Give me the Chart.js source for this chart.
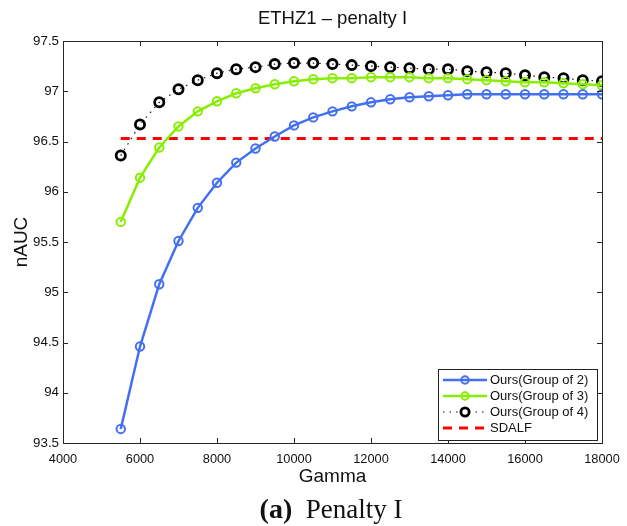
<!DOCTYPE html>
<html>
<head>
<meta charset="utf-8">
<script src="https://cdn.jsdelivr.net/npm/chart.js@4/dist/chart.umd.min.js"></script>
<style>
  html, body { margin: 0; padding: 0; background: #fff; }
  #wrap { width: 627px; height: 526px; position: relative; }
</style>
</head>
<body>
<div id="wrap"><canvas id="c" width="627" height="526"></canvas></div>
<script>
// Gamma values (x axis)
const gamma = [5500, 6000, 6500, 7000, 7500, 8000, 8500, 9000, 9500, 10000,
  10500, 11000, 11500, 12000, 12500, 13000, 13500, 14000, 14500, 15000,
  15500, 16000, 16500, 17000, 17500, 18000];

// nAUC per group size
const group2 = [93.64, 94.46, 95.08, 95.51, 95.84, 96.09, 96.29, 96.43, 96.55, 96.66,
  96.74, 96.80, 96.85, 96.89, 96.92, 96.94, 96.95, 96.96, 96.97, 96.97,
  96.97, 96.97, 96.97, 96.97, 96.97, 96.97];
const group3 = [95.70, 96.14, 96.44, 96.65, 96.80, 96.90, 96.98, 97.03, 97.07, 97.10,
  97.12, 97.13, 97.13, 97.14, 97.14, 97.14, 97.13, 97.13, 97.12, 97.11,
  97.10, 97.09, 97.09, 97.08, 97.07, 97.06];
const group4 = [96.36, 96.67, 96.89, 97.02, 97.11, 97.18, 97.22, 97.24, 97.27, 97.28,
  97.28, 97.27, 97.26, 97.25, 97.24, 97.23, 97.22, 97.22, 97.20, 97.19,
  97.18, 97.16, 97.14, 97.13, 97.11, 97.10];

// SDALF baseline (constant)
const sdalfRange = [5500, 18000];
const sdalfValue = 96.53;

// Axis ticks
const xTicks = [4000, 6000, 8000, 10000, 12000, 14000, 16000, 18000];
const yTicks = [93.5, 94, 94.5, 95, 95.5, 96, 96.5, 97, 97.5];

const seriesLabels = ['Ours(Group of 2)', 'Ours(Group of 3)', 'Ours(Group of 4)', 'SDALF'];

const SANS = '"Liberation Sans", Arial, Helvetica, sans-serif';
const SERIF = '"Liberation Serif", "DejaVu Serif", serif';
const AXIS_COLOR = '#262626';

const toPoints = (xs, ys) => xs.map((x, i) => ({ x, y: ys[i] }));

// Frame, inward tick marks, titles, caption and in-plot legend
const decorations = {
  id: 'decorations',
  afterDatasetsDraw(chart) {
    const { ctx, chartArea: a, scales } = chart;
    const xs = scales.x, ys = scales.y;
    const tl = 5;
    ctx.save();
    ctx.strokeStyle = AXIS_COLOR;
    ctx.lineWidth = 1;
    ctx.beginPath();
    xs.ticks.forEach((t, i) => {
      const px = Math.round(xs.getPixelForTick(i)) + 0.5;
      ctx.moveTo(px, a.bottom); ctx.lineTo(px, a.bottom - tl);
      ctx.moveTo(px, a.top); ctx.lineTo(px, a.top + tl);
    });
    ys.ticks.forEach((t, i) => {
      const py = Math.round(ys.getPixelForTick(i)) + 0.5;
      ctx.moveTo(a.left, py); ctx.lineTo(a.left + tl, py);
      ctx.moveTo(a.right, py); ctx.lineTo(a.right - tl, py);
    });
    ctx.stroke();
    ctx.strokeRect(Math.round(a.left) + 0.5, Math.round(a.top) + 0.5,
      Math.round(a.right - a.left), Math.round(a.bottom - a.top));

    // Legend box in the lower right of the plot
    const lx = 438, ly = 369, lw = 159, lh = 71;
    ctx.fillStyle = '#fff';
    ctx.fillRect(lx, ly, lw, lh);
    ctx.strokeStyle = '#222';
    ctx.strokeRect(lx + 0.5, ly + 0.5, lw, lh);
    ctx.font = '13px ' + SANS;
    ctx.textBaseline = 'middle';
    ctx.textAlign = 'left';
    chart.data.datasets.forEach((ds, i) => {
      const cy = ly + 11 + i * 16;
      const x0 = lx + 5, x1 = lx + 49, xm = (x0 + x1) / 2;
      ctx.save();
      ctx.strokeStyle = ds.borderColor;
      ctx.lineWidth = ds.borderWidth;
      ctx.setLineDash(ds.borderDash || []);
      ctx.beginPath();
      ctx.moveTo(x0, cy); ctx.lineTo(x1, cy);
      ctx.stroke();
      ctx.setLineDash([]);
      if (ds.pointRadius > 0) {
        ctx.beginPath();
        ctx.fillStyle = '#fff';
        ctx.lineWidth = ds.pointBorderWidth;
        ctx.strokeStyle = ds.pointBorderColor;
        ctx.arc(xm, cy, ds.pointRadius - 0.5, 0, Math.PI * 2);
        if (ds.legendFill) ctx.fill();
        ctx.stroke();
      }
      ctx.restore();
      ctx.fillStyle = '#111';
      ctx.fillText(ds.label, x1 + 3, cy + 0.5);
    });

    // Title
    const cx = (a.left + a.right) / 2;
    ctx.fillStyle = '#111';
    ctx.textAlign = 'center';
    ctx.textBaseline = 'middle';
    ctx.font = '18.5px ' + SANS;
    ctx.fillText('ETHZ1 \u2013 penalty I', cx, 19);

    // Axis titles
    ctx.font = '19px ' + SANS;
    ctx.fillText('Gamma', cx, 477);
    ctx.save();
    ctx.translate(22, (a.top + a.bottom) / 2);
    ctx.rotate(-Math.PI / 2);
    ctx.fillText('nAUC', 0, 0);
    ctx.restore();

    // Caption
    ctx.textAlign = 'left';
    ctx.textBaseline = 'alphabetic';
    const boldPart = '(a)';
    const plainPart = '  Penalty I';
    ctx.font = 'bold 28px ' + SERIF;
    const w1 = ctx.measureText(boldPart).width;
    ctx.font = '27px ' + SERIF;
    const w2 = ctx.measureText(plainPart).width;
    const start = 331 - (w1 + w2) / 2;
    ctx.font = 'bold 28px ' + SERIF;
    ctx.fillText(boldPart, start, 518);
    ctx.font = '27px ' + SERIF;
    ctx.fillText(plainPart, start + w1, 518);
    ctx.restore();
  }
};

const blue = 'rgb(66, 112, 240)';
const green = 'rgb(135, 238, 0)';

new Chart(document.getElementById('c'), {
  type: 'line',
  data: {
    datasets: [
      {
        label: seriesLabels[0],
        data: toPoints(gamma, group2),
        borderColor: blue, borderWidth: 2.5,
        pointRadius: 4.2, pointBorderWidth: 2, pointBorderColor: blue,
        pointBackgroundColor: 'rgba(255,255,255,0)',
        pointHoverRadius: 4.2
      },
      {
        label: seriesLabels[1],
        data: toPoints(gamma, group3),
        borderColor: green, borderWidth: 2.5,
        pointRadius: 4.2, pointBorderWidth: 2, pointBorderColor: green,
        pointBackgroundColor: 'rgba(255,255,255,0)',
        pointHoverRadius: 4.2
      },
      {
        label: seriesLabels[2],
        data: toPoints(gamma, group4),
        borderColor: '#111', borderWidth: 1.2, borderDash: [1.5, 5],
        pointRadius: 4.6, pointBorderWidth: 2.8, pointBorderColor: '#000',
        pointBackgroundColor: 'rgba(255,255,255,0)',
        pointHoverRadius: 4.6, legendFill: true
      },
      {
        label: seriesLabels[3],
        data: sdalfRange.map(x => ({ x, y: sdalfValue })),
        borderColor: '#ff0000', borderWidth: 3, borderDash: [9, 7],
        pointRadius: 0, pointBorderColor: '#ff0000', pointHoverRadius: 0
      }
    ]
  },
  options: {
    responsive: false,
    animation: false,
    events: [],
    layout: { padding: { left: 0, right: 25, top: 41, bottom: 0 } },
    plugins: { legend: { display: false }, title: { display: false }, tooltip: { enabled: false } },
    elements: { line: { tension: 0 } },
    scales: {
      x: {
        type: 'linear', min: xTicks[0], max: xTicks[xTicks.length - 1],
        afterBuildTicks: s => { s.ticks = xTicks.map(v => ({ value: v })); },
        afterFit: s => { s.height = 83; s.paddingLeft = 0; s.paddingRight = 0; },
        grid: { display: false, drawTicks: false },
        border: { display: false },
        ticks: {
          padding: 9, color: '#111', maxRotation: 0, autoSkip: false,
          font: { family: SANS, size: 12.8 },
          callback: v => String(v)
        }
      },
      y: {
        type: 'linear', min: yTicks[0], max: yTicks[yTicks.length - 1],
        afterBuildTicks: s => { s.ticks = yTicks.map(v => ({ value: v })); },
        afterFit: s => { s.width = 63; s.paddingTop = 0; s.paddingBottom = 0; },
        grid: { display: false, drawTicks: false },
        border: { display: false },
        ticks: {
          padding: 4, color: '#111', autoSkip: false,
          font: { family: SANS, size: 13.3 },
          callback: v => String(v)
        }
      }
    }
  },
  plugins: [decorations]
});
</script>
</body>
</html>
